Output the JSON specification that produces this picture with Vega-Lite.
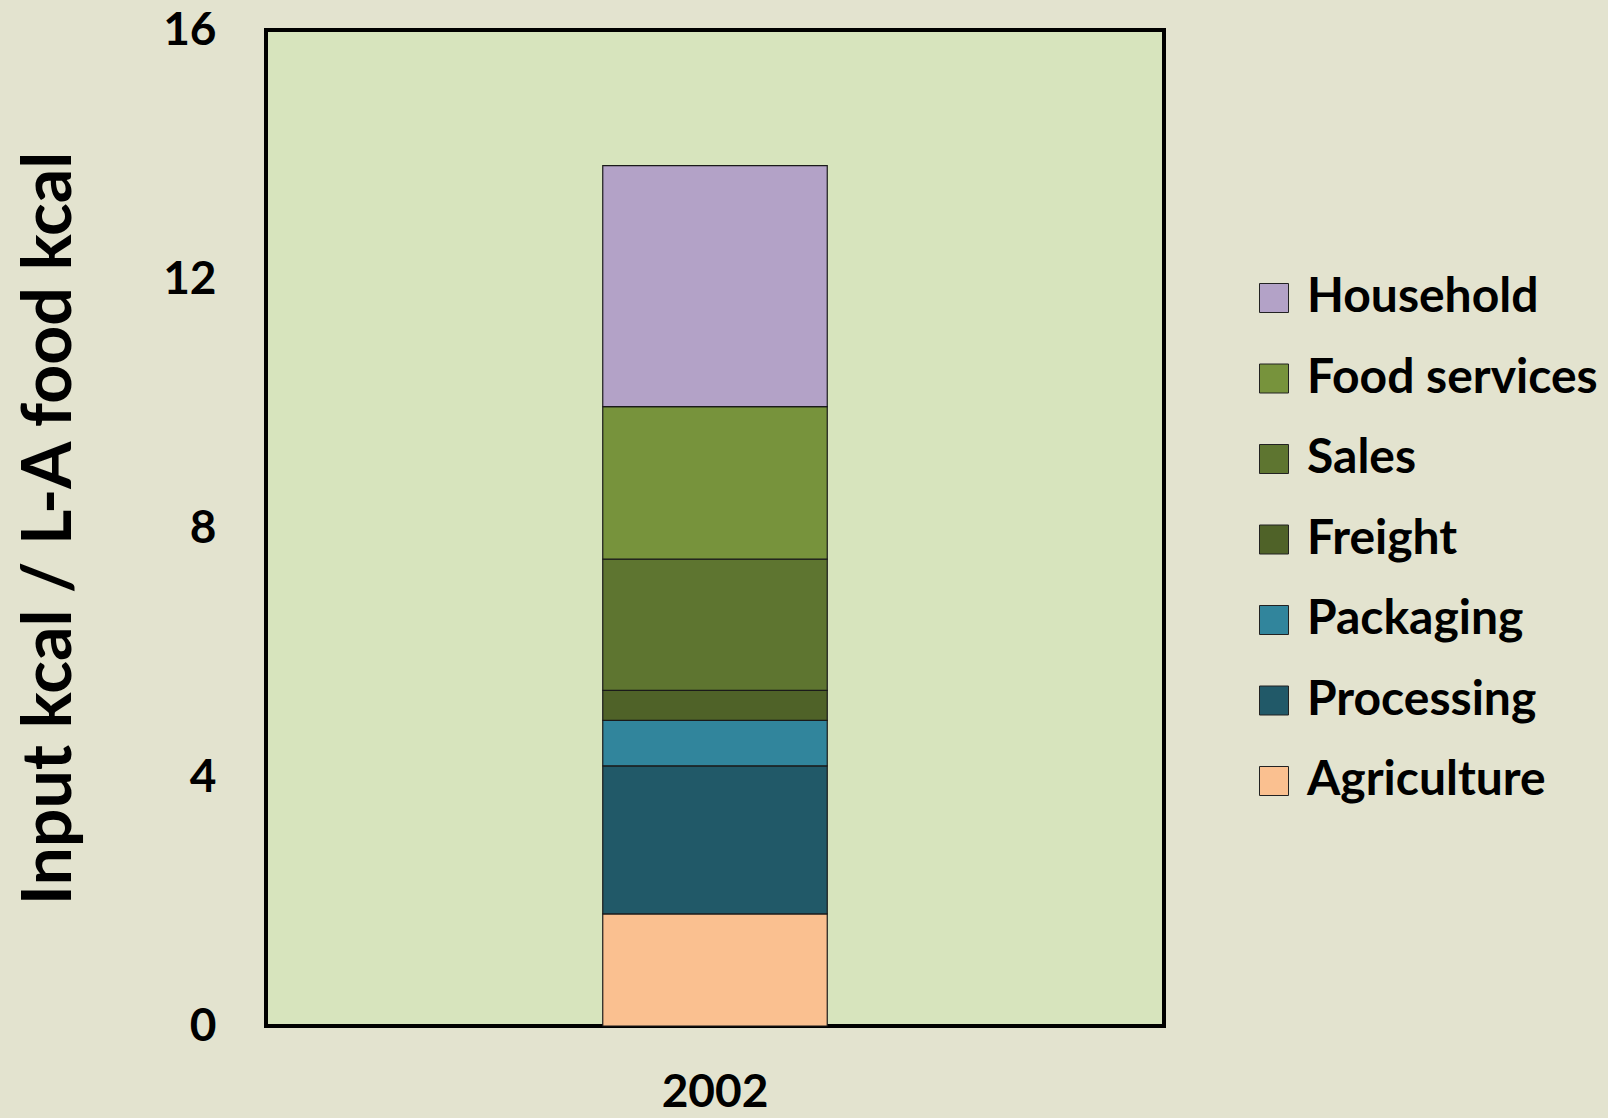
{
  "$schema": "https://vega.github.io/schema/vega-lite/v6.json",
  "autosize": "none",
  "width": 898,
  "height": 996,
  "padding": {"left": 266, "top": 30, "right": 444, "bottom": 92},
  "background": "#e3e3cf",
  "data": {
    "values": [
      {"year": "2002", "stage": "Agriculture", "rank": 1, "value": 1.80},
      {"year": "2002", "stage": "Processing", "rank": 2, "value": 2.38},
      {"year": "2002", "stage": "Packaging", "rank": 3, "value": 0.73},
      {"year": "2002", "stage": "Freight", "rank": 4, "value": 0.48},
      {"year": "2002", "stage": "Sales", "rank": 5, "value": 2.11},
      {"year": "2002", "stage": "Food services", "rank": 6, "value": 2.45},
      {"year": "2002", "stage": "Household", "rank": 7, "value": 3.87}
    ]
  },
  "mark": {"type": "bar", "stroke": "#1a1a1a", "strokeWidth": 1.2},
  "encoding": {
    "x": {
      "field": "year",
      "type": "nominal",
      "scale": {"paddingInner": 0.5, "paddingOuter": 0.75},
      "axis": {
        "title": null,
        "labelAngle": 0,
        "labelFont": "Lato",
        "labelFontWeight": "bold",
        "labelFontSize": 46,
        "labelColor": "black",
        "labelPadding": 44,
        "ticks": false,
        "domain": false
      }
    },
    "y": {
      "field": "value",
      "type": "quantitative",
      "stack": "zero",
      "scale": {"domain": [0, 16], "nice": false},
      "axis": {
        "title": "Input kcal / L-A food kcal",
        "titleFont": "Lato",
        "titleFontWeight": "bold",
        "titleFontSize": 68,
        "titleColor": "black",
        "titleX": -216,
        "titleBaseline": "middle",
        "values": [0, 4, 8, 12, 16],
        "labelFont": "Lato",
        "labelFontWeight": "bold",
        "labelFontSize": 46,
        "labelColor": "black",
        "labelPadding": 50,
        "ticks": false,
        "domain": false,
        "grid": false
      }
    },
    "color": {
      "field": "stage",
      "type": "nominal",
      "scale": {
        "domain": ["Household", "Food services", "Sales", "Freight", "Packaging", "Processing", "Agriculture"],
        "range": ["#b3a2c7", "#77933c", "#5e7530", "#4f6228", "#31859c", "#215968", "#fac090"]
      },
      "legend": {
        "title": null,
        "orient": "none",
        "legendX": 984,
        "legendY": 244,
        "symbolType": "square",
        "symbolSize": 841,
        "symbolStrokeColor": "#222222",
        "symbolStrokeWidth": 1,
        "symbolOpacity": 1,
        "labelFont": "Lato",
        "labelFontWeight": "bold",
        "labelFontSize": 48,
        "labelColor": "black",
        "labelOffset": 9,
        "labelLimit": 400,
        "rowPadding": 32.5
      }
    },
    "order": {"field": "rank", "type": "quantitative", "sort": "ascending"}
  },
  "config": {
    "view": {"fill": "#d7e4bd", "stroke": "black", "strokeWidth": 4}
  }
}
